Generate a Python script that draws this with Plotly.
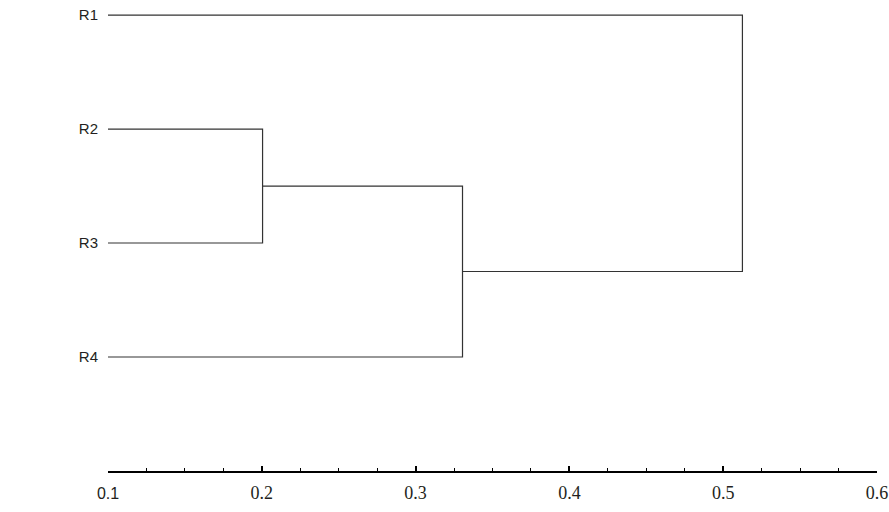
import plotly.graph_objects as go

# ---- data ----
leaf_labels = ["R1", "R2", "R3", "R4"]
leaf_pos = [1, 2, 3, 4]
leaf_base = 0.1
# merges: (left child, right child, height); children: leaf name or "n<k>" for merge k
merges = [
    ("R2", "R3", 0.2005),
    ("n0", "R4", 0.3305),
    ("R1", "n1", 0.5125),
]
tick_vals = [0.1, 0.2, 0.3, 0.4, 0.5, 0.6]
tick_text = ["0.1", "0.2", "0.3", "0.4", "0.5", "0.6"]

# ---- build dendrogram segments ----
node_pos = {l: p for l, p in zip(leaf_labels, leaf_pos)}
node_h = {l: leaf_base for l in leaf_labels}
xs, ys = [], []
for k, (a, b, h) in enumerate(merges):
    ya, yb = node_pos[a], node_pos[b]
    xs += [node_h[a], h, h, node_h[b], None]
    ys += [ya, ya, yb, yb, None]
    node_pos[f"n{k}"] = (ya + yb) / 2
    node_h[f"n{k}"] = h

fig = go.Figure()
fig.add_trace(go.Scatter(x=xs, y=ys, mode="lines",
                         line=dict(color="#333333", width=1.2),
                         hoverinfo="skip", showlegend=False))

ticktext_fmt = []
for t in tick_text:
    if t == "0.1":
        ticktext_fmt.append('<span style="font-family:Liberation Sans;font-size:16px">' + t + '</span>')
    else:
        ticktext_fmt.append(t)

fig.update_layout(
    width=889, height=512,
    margin=dict(l=108, r=12, t=0, b=41, autoexpand=False),
    paper_bgcolor="white", plot_bgcolor="white",
    xaxis=dict(range=[0.1, 0.6], tickvals=tick_vals, ticktext=ticktext_fmt,
               automargin=False,
               showgrid=False, zeroline=False, showline=True,
               linecolor="black", linewidth=2,
               ticks="inside", ticklen=5, tickwidth=1.5, tickcolor="black",
               minor=dict(dtick=0.025, tick0=0.1, ticks="inside", ticklen=3,
                          tickwidth=1.2, tickcolor="black", showgrid=False),
               tickfont=dict(family="Liberation Serif, Times New Roman, serif", size=18, color="#231f20"),
               ticklabelstandoff=4),
    yaxis=dict(range=[5, 0.868], tickvals=leaf_pos, ticktext=leaf_labels,
               automargin=False,
               showgrid=False, zeroline=False, showline=False,
               ticks="outside", ticklen=6, tickcolor="rgba(0,0,0,0)",
               tickfont=dict(family="Liberation Sans, Arial, sans-serif", size=15, color="#231f20")),
)

fig.write_html("out.html", config={"displayModeBar": False},
               post_script="document.body.style.margin='0';document.body.style.overflow='hidden';")
